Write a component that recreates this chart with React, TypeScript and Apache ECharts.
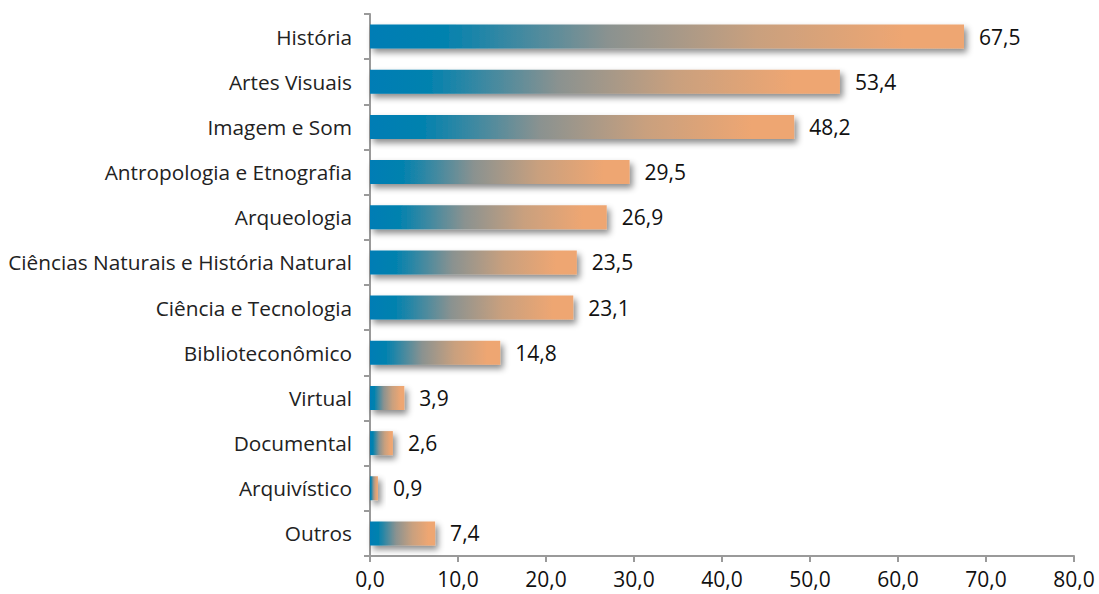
import React, { useEffect, useRef } from "react";
import * as echarts from "echarts";

const categories = [
  "História",
  "Artes Visuais",
  "Imagem e Som",
  "Antropologia e Etnografia",
  "Arqueologia",
  "Ciências Naturais e História Natural",
  "Ciência e Tecnologia",
  "Biblioteconômico",
  "Virtual",
  "Documental",
  "Arquivístico",
  "Outros",
];
const values = [67.5, 53.4, 48.2, 29.5, 26.9, 23.5, 23.1, 14.8, 3.9, 2.6, 0.9, 7.4];

const fmt = (v: number) => v.toFixed(1).replace(".", ",");

export default function App() {
  const ref = useRef<HTMLDivElement>(null);
  useEffect(() => {
    if (!ref.current) return;
    const chart = echarts.init(ref.current, undefined, { renderer: "svg" });
    const font = "'Open Sans', 'DejaVu Sans', sans-serif";
    chart.setOption({
      animation: false,
      grid: { left: 370, right: 25, top: 14, bottom: 38, containLabel: false },
      xAxis: {
        type: "value",
        min: 0,
        max: 80,
        interval: 10,
        axisLine: { show: true, lineStyle: { color: "#9a9a9a", width: 2 } },
        axisTick: { show: true, length: 6, lineStyle: { color: "#9a9a9a", width: 2 } },
        splitLine: { show: false },
        axisLabel: {
          formatter: (v: number) => fmt(v),
          color: "#111",
          fontSize: 21,
          fontFamily: font,
          margin: 12,
        },
      },
      yAxis: {
        type: "category",
        inverse: true,
        data: categories,
        axisLine: { show: true, lineStyle: { color: "#9a9a9a", width: 2 } },
        axisTick: { show: true, length: 6, lineStyle: { color: "#9a9a9a", width: 2 } },
        axisLabel: {
          color: "#222",
          fontSize: 20.8,
          fontFamily: font,
          margin: 18,
        },
      },
      series: [
        {
          type: "bar",
          data: values,
          barWidth: 24,
          itemStyle: {
            color: new echarts.graphic.LinearGradient(0, 0, 1, 0, [
              { offset: 0, color: "#007db5" },
              { offset: 0.13, color: "#0582ae" },
              { offset: 0.4, color: "#8a9290" },
              { offset: 0.65, color: "#c9a07e" },
              { offset: 0.9, color: "#eea672" },
              { offset: 1, color: "#eea672" },
            ]),
            shadowColor: "rgba(0,0,0,0.45)",
            shadowBlur: 6,
            shadowOffsetX: 3,
            shadowOffsetY: 4,
          },
          label: {
            show: true,
            position: "right",
            distance: 15,
            formatter: (p: any) => fmt(p.value),
            color: "#111",
            fontSize: 21,
            fontFamily: font,
          },
        },
      ],
    });
    return () => chart.dispose();
  }, []);
  return (
    <div
      ref={ref}
      style={{ position: "absolute", left: 0, top: 0, width: 1099, height: 594, background: "#fff" }}
    />
  );
}
